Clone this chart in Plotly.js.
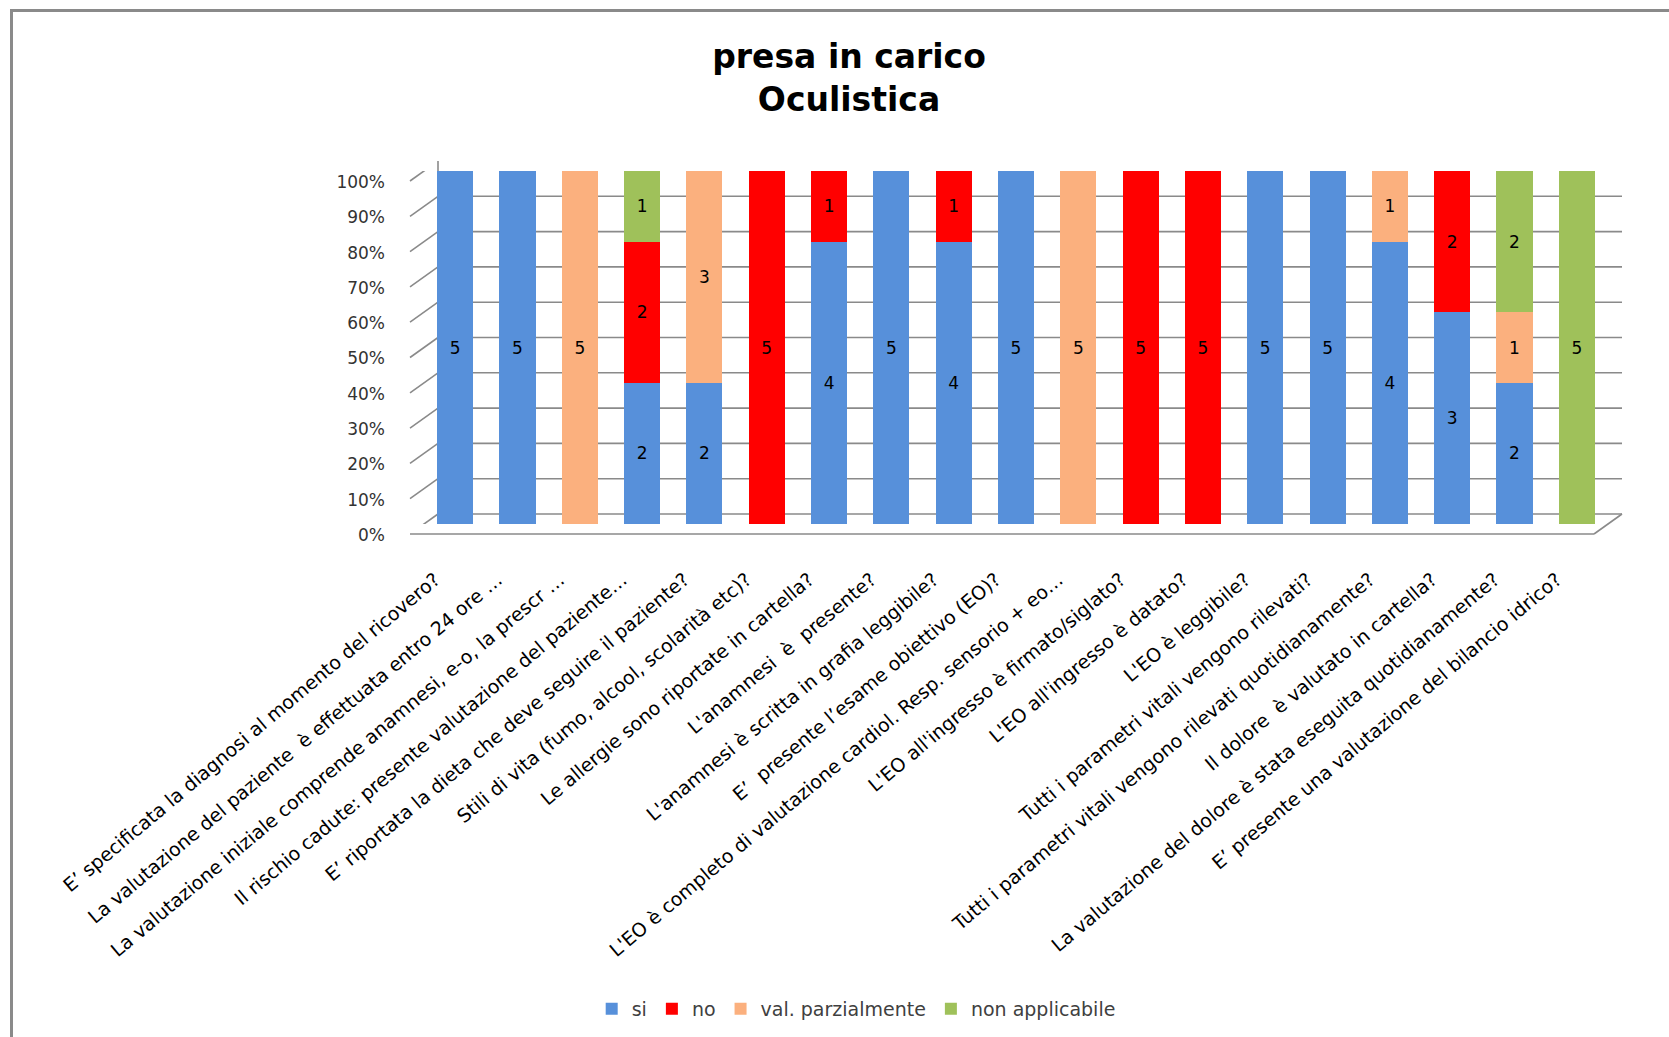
<!DOCTYPE html>
<html>
<head>
<meta charset="utf-8">
<script src="https://cdn.plot.ly/plotly-3.0.1.min.js"></script>
<style>
  html, body { margin: 0; padding: 0; background: #ffffff; }
  #wrap { position: relative; width: 1669px; height: 1037px; overflow: hidden; }
  #chart { position: absolute; left: 0; top: 0; width: 1669px; height: 1037px; }
  #frame { position: absolute; left: 10px; top: 9px; width: 1700px; height: 1100px;
           border-left: 3px solid #8a8a8a; border-top: 3px solid #8a8a8a; pointer-events: none; }
</style>
</head>
<body>
<div id="wrap">
  <div id="chart"></div>
  <div id="frame"></div>
</div>
<script>
// ---- data ----
const categories = [
  "E’ specificata la diagnosi al momento del ricovero?",
  "La valutazione del paziente  è effettuata entro 24 ore …",
  "La valutazione iniziale comprende anamnesi, e-o, la prescr …",
  "Il rischio cadute: presente valutazione del paziente…",
  "E’ riportata la dieta che deve seguire il paziente?",
  "Stili di vita (fumo, alcool, scolarità etc)?",
  "Le allergie sono riportate in cartella?",
  "L'anamnesi  è  presente?",
  "L'anamnesi è scritta in grafia leggibile?",
  "E’  presente l’esame obiettivo (EO)?",
  "L'EO è completo di valutazione cardiol. Resp. sensorio + eo…",
  "L'EO all'ingresso è firmato/siglato?",
  "L'EO all'ingresso è datato?",
  "L'EO è leggibile?",
  "Tutti i parametri vitali vengono rilevati?",
  "Tutti i parametri vitali vengono rilevati quotidianamente?",
  "Il dolore  è valutato in cartella?",
  "La valutazione del dolore è stata eseguita quotidianamente?",
  "E’ presente una valutazione del bilancio idrico?"
];
const si             = [5,5,0,2,2,0,4,5,4,5,0,0,0,5,5,4,3,2,0];
const no             = [0,0,0,2,0,5,1,0,1,0,0,5,5,0,0,0,2,0,0];
const valParz        = [0,0,5,0,3,0,0,0,0,0,5,0,0,0,0,1,0,1,0];
const nonApplicabile = [0,0,0,1,0,0,0,0,0,0,0,0,0,0,0,0,0,2,5];
const seriesNames = ["si", "no", "val. parzialmente", "non applicabile"];
const yTickVals = [0,0.1,0.2,0.3,0.4,0.5,0.6,0.7,0.8,0.9,1];

// ---- styles ----
const colors = ["#5790da", "#ff0000", "#fbb07e", "#9fc15a"];
const W = 1669, H = 1037;
const mL = 424, mR = 61, mT = 171, mB = 513;
const plotW = W - mL - mR, plotH = H - mT - mB;
const dx = 14, dy = 10;       // half depth of the 3D frame (px)
const frameColor = "#8a8a8a";

function mk(vals, i) {
  return {
    type: "bar",
    name: seriesNames[i],
    x: categories,
    y: vals,
    text: vals.map(v => v ? String(v) : ""),
    texttemplate: "%{text}",
    textposition: "inside",
    insidetextanchor: "middle",
    textangle: 0,
    constraintext: "none",
    insidetextfont: { family: "DejaVu Sans", size: 17, color: "#000000" },
    marker: { color: colors[i], line: { width: 0 } },
    hoverinfo: "x+y+name"
  };
}
const data = [mk(si,0), mk(no,1), mk(valParz,2), mk(nonApplicabile,3)];

// 3D frame decoration (back wall grid, side ticks, floor)
const shapes = [];
yTickVals.forEach(v => {
  shapes.push({ type: "line", layer: "below", xref: "paper", yref: "y",
    x0: dx / plotW, x1: 1 + dx / plotW,
    ysizemode: "pixel", yanchor: v, y0: dy, y1: dy,
    line: { color: frameColor, width: 1.6 } });
  shapes.push({ type: "line", layer: "below", xref: "paper", yref: "y",
    xsizemode: "pixel", xanchor: 0, x0: -dx, x1: dx,
    ysizemode: "pixel", yanchor: v, y0: -dy, y1: dy,
    line: { color: frameColor, width: 1.6 } });
});
// back wall left edge
shapes.push({ type: "line", layer: "below", xref: "paper", yref: "paper",
  x0: dx / plotW, x1: dx / plotW, y0: dy / plotH, y1: 1 + dy / plotH,
  line: { color: frameColor, width: 1.6 } });
// floor front edge
shapes.push({ type: "line", layer: "below", xref: "paper", yref: "paper",
  x0: -dx / plotW, x1: 1 - dx / plotW, y0: -dy / plotH, y1: -dy / plotH,
  line: { color: frameColor, width: 1.6 } });
// floor right edge
shapes.push({ type: "line", layer: "below", xref: "paper", yref: "paper",
  x0: 1 - dx / plotW, x1: 1 + dx / plotW, y0: -dy / plotH, y1: dy / plotH,
  line: { color: frameColor, width: 1.6 } });

const layout = {
  width: W, height: H,
  margin: { l: mL, r: mR, t: mT, b: mB, pad: 0 },
  paper_bgcolor: "rgba(0,0,0,0)",
  plot_bgcolor: "rgba(0,0,0,0)",
  barmode: "stack",
  barnorm: "fraction",
  bargap: 0.42,
  showlegend: true,
  title: {
    text: "<b>presa in carico<br>Oculistica</b>",
    font: { family: "DejaVu Sans", size: 33, color: "#000000" },
    xref: "container", yref: "container",
    x: 0.5087, xanchor: "center",
    y: 1 - 68 / H, yanchor: "middle"
  },
  xaxis: {
    type: "category",
    tickangle: -40,
    tickfont: { family: "DejaVu Sans", size: 19, color: "#000000" },
    ticklabelstandoff: 40,
    ticklabelshift: -20,
    showgrid: false, zeroline: false, showline: false, ticks: "",
    automargin: false, fixedrange: true
  },
  yaxis: {
    range: [0, 1],
    tickvals: yTickVals,
    tickformat: ".0%",
    tickfont: { family: "DejaVu Sans", size: 17, color: "#333333" },
    ticklabelstandoff: 38,
    ticklabelshift: 11,
    showgrid: false, zeroline: false, showline: false, ticks: "",
    automargin: false, fixedrange: true
  },
  legend: {
    orientation: "h",
    xref: "container", yref: "container",
    x: 0.513, xanchor: "center",
    y: 1 - 1009 / H, yanchor: "middle",
    font: { family: "DejaVu Sans", size: 19, color: "#404040" },
    traceorder: "normal",
    itemclick: false, itemdoubleclick: false
  },
  shapes: shapes
};

Plotly.newPlot("chart", data, layout, { displayModeBar: false, staticPlot: false });
</script>
</body>
</html>
